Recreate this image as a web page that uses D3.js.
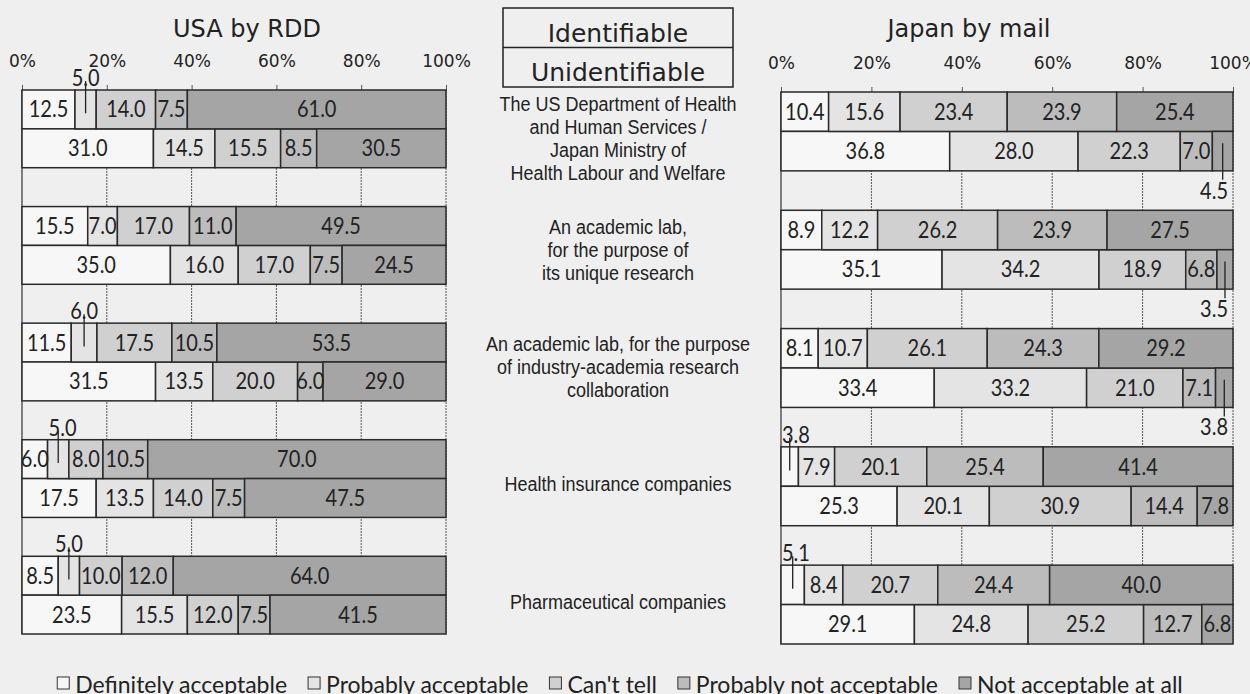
<!DOCTYPE html>
<html>
<head>
<meta charset="utf-8">
<script src="https://cdn.jsdelivr.net/npm/d3@7"></script>
<style>
  body { margin: 0; background: #efefef; }
  svg { display: block; }
</style>
</head>
<body>
<svg id="chart" width="1250" height="694"></svg>
<script>
// ---- data ----
var categories = ["HHS / MHLW", "Academic lab (own research)", "Academic lab (industry collaboration)",
                  "Health insurance companies", "Pharmaceutical companies"];
var categoryLines = [
  ["The US Department of Health", "and Human Services /", "Japan Ministry of", "Health Labour and Welfare"],
  ["An academic lab,", "for the purpose of", "its unique research"],
  ["An academic lab, for the purpose", "of industry-academia research", "collaboration"],
  ["Health insurance companies"],
  ["Pharmaceutical companies"]
];
var responses = ["Definitely acceptable", "Probably acceptable", "Can't tell",
                 "Probably not acceptable", "Not acceptable at all"];
var conditions = ["Identifiable", "Unidentifiable"];
var tickValues = [0, 20, 40, 60, 80, 100];

var usaIdent = [
  [12.5, 5.0, 14.0, 7.5, 61.0],
  [15.5, 7.0, 17.0, 11.0, 49.5],
  [11.5, 6.0, 17.5, 10.5, 53.5],
  [6.0, 5.0, 8.0, 10.5, 70.0],
  [8.5, 5.0, 10.0, 12.0, 64.0]
];
var usaUnident = [
  [31.0, 14.5, 15.5, 8.5, 30.5],
  [35.0, 16.0, 17.0, 7.5, 24.5],
  [31.5, 13.5, 20.0, 6.0, 29.0],
  [17.5, 13.5, 14.0, 7.5, 47.5],
  [23.5, 15.5, 12.0, 7.5, 41.5]
];
var japanIdent = [
  [10.4, 15.6, 23.4, 23.9, 25.4],
  [8.9, 12.2, 26.2, 23.9, 27.5],
  [8.1, 10.7, 26.1, 24.3, 29.2],
  [3.8, 7.9, 20.1, 25.4, 41.4],
  [5.1, 8.4, 20.7, 24.4, 40.0]
];
var japanUnident = [
  [36.8, 28.0, 22.3, 7.0, 4.5],
  [35.1, 34.2, 18.9, 6.8, 3.5],
  [33.4, 33.2, 21.0, 7.1, 3.8],
  [25.3, 20.1, 30.9, 14.4, 7.8],
  [29.1, 24.8, 25.2, 12.7, 6.8]
];
// segments whose label sits outside the bar with a leader line: [category, condition, response, side]
var usaCallouts = [[0, 0, 1, "above"], [2, 0, 1, "above"], [3, 0, 1, "above"], [4, 0, 1, "above"]];
var japanCallouts = [[0, 1, 4, "below"], [1, 1, 4, "below"], [2, 1, 4, "below"],
                     [3, 0, 0, "above"], [4, 0, 0, "above"]];

var fills = ["#f7f7f7", "#e4e4e4", "#d0d0d0", "#bcbcbc", "#a5a5a5"];
var ink = "#222";
var valueFont = "Lato, sans-serif";
var headFont = "'DejaVu Sans', sans-serif";

var svg = d3.select("#chart");
svg.append("rect").attr("width", 1250).attr("height", 694).attr("fill", "#efefef");

// row slots: identifiable, unidentifiable, blank gap
var slots = [];
categories.forEach(function(c, i) {
  slots.push(i + "-0", i + "-1");
  if (i < categories.length - 1) slots.push(i + "-gap");
});

// the scanned figure is a bit taller than wide, so the numbers get a small vertical stretch
function valueText(parent, x, y, anchor, txt) {
  return parent.append("text")
    .attr("transform", "translate(" + x + "," + y + ") scale(1,1.15)")
    .attr("text-anchor", anchor)
    .attr("font-family", valueFont).attr("font-size", 20).attr("fill", ink)
    .text(txt);
}

function drawPanel(p) {
  var g = svg.append("g");
  var x = d3.scaleLinear().domain([0, 1]).range([p.left, p.right]);
  var y = d3.scaleBand().domain(slots).range([p.top, p.bottom]).padding(0);

  // title
  g.append("text")
    .attr("x", p.titleX).attr("y", 37)
    .attr("text-anchor", "middle")
    .attr("font-family", headFont).attr("font-size", 24).attr("fill", ink)
    .text(p.title);

  // grid
  g.selectAll(".grid").data(tickValues.slice(1))
    .enter().append("line")
      .attr("x1", function(d) { return x(d / 100); })
      .attr("x2", function(d) { return x(d / 100); })
      .attr("y1", p.top).attr("y2", p.bottom)
      .attr("stroke", "#555").attr("stroke-width", 1).attr("stroke-dasharray", "2,1");
  g.append("line")
    .attr("x1", x(0)).attr("x2", x(0)).attr("y1", p.top).attr("y2", p.bottom)
    .attr("stroke", "#333").attr("stroke-width", 1.2);

  // axis on top
  var ax = g.append("g")
    .attr("transform", "translate(0," + p.top + ")")
    .call(d3.axisTop(x)
      .tickValues(tickValues.map(function(t) { return t / 100; }))
      .tickFormat(d3.format(".0%"))
      .tickSize(5).tickPadding(18));
  ax.select(".domain").attr("stroke", "#333");
  ax.selectAll(".tick line").attr("stroke", "#555");
  ax.selectAll(".tick text")
    .attr("font-family", headFont).attr("font-size", 17).attr("fill", ink);

  // stacked rows, normalised to 100%
  var rows = [];
  categories.forEach(function(cat, i) {
    conditions.forEach(function(cond, c) {
      var vals = (c === 0 ? p.ident : p.unident)[i];
      var row = {slot: i + "-" + c, cat: i, cond: c};
      responses.forEach(function(r, k) { row[r] = vals[k]; });
      rows.push(row);
    });
  });
  var series = d3.stack().keys(responses).offset(d3.stackOffsetExpand)(rows);

  var layer = g.selectAll(".layer").data(series)
    .enter().append("g")
      .attr("fill", function(d, k) { return fills[k]; });

  layer.selectAll("rect")
    .data(function(d) { return d; })
    .enter().append("rect")
      .attr("x", function(d) { return x(d[0]); })
      .attr("y", function(d) { return y(d.data.slot); })
      .attr("width", function(d) { return x(d[1]) - x(d[0]); })
      .attr("height", y.bandwidth())
      .attr("stroke", "#2a2a2a").attr("stroke-width", 1.5);

  // value labels
  series.forEach(function(s, k) {
    s.forEach(function(d) {
      var val = d.data[responses[k]];
      var txt = val.toFixed(1);
      var top = y(d.data.slot), h = y.bandwidth();
      var mid = (d[0] + d[1]) / 2;
      var co = p.callouts.filter(function(c) {
        return c[0] === d.data.cat && c[1] === d.data.cond && c[2] === k;
      })[0];
      if (!co) {
        valueText(g, x(mid), top + h / 2 + 8, "middle", txt);
        return;
      }
      var anchor = "middle", tx = x(mid);
      if (mid < 0.1) { anchor = "start"; tx = x(d[0]) + 1; }
      if (mid > 0.9) { anchor = "end"; tx = x(d[1]) - 5; }
      var ty, ly1, ly2;
      if (co[3] === "above") {
        ty = top - 4; ly1 = top - 9; ly2 = top + h * 0.6;
      } else {
        ty = top + h + 28; ly1 = top + h * 0.3; ly2 = top + h + 9;
      }
      g.append("line")
        .attr("x1", x(mid)).attr("x2", x(mid)).attr("y1", ly1).attr("y2", ly2)
        .attr("stroke", ink).attr("stroke-width", 1.3);
      valueText(g, tx, ty, anchor, txt);
    });
  });

  return y;
}

var yL = drawPanel({title: "USA by RDD", titleX: 247, left: 22, right: 446, top: 90, bottom: 634,
                    ident: usaIdent, unident: usaUnident, callouts: usaCallouts});
var yR = drawPanel({title: "Japan by mail", titleX: 969, left: 781, right: 1233, top: 92, bottom: 644,
                    ident: japanIdent, unident: japanUnident, callouts: japanCallouts});

// condition key box in the middle
var key = svg.append("g");
key.append("rect").attr("x", 503).attr("y", 8).attr("width", 230).attr("height", 79)
  .attr("fill", "none").attr("stroke", ink).attr("stroke-width", 1.5);
key.append("line").attr("x1", 503).attr("x2", 733).attr("y1", 47.5).attr("y2", 47.5)
  .attr("stroke", ink).attr("stroke-width", 1.5);
key.selectAll("text").data(conditions)
  .enter().append("text")
    .attr("x", 618)
    .attr("y", function(d, i) { return i === 0 ? 42 : 81; })
    .attr("text-anchor", "middle")
    .attr("font-family", headFont).attr("font-size", 25).attr("fill", ink)
    .text(function(d) { return d; });

// category labels between the panels
categoryLines.forEach(function(lines, i) {
  var cL = yL(i + "-0") + yL.bandwidth();
  var cR = yR(i + "-0") + yR.bandwidth();
  var c = (cL + cR) / 2 + (lines.length > 3 ? 9 : 3);
  var t = svg.append("text")
    .attr("transform", "translate(618," + c + ") scale(1,1.12)")
    .attr("text-anchor", "middle")
    .attr("font-family", "'Liberation Sans', Arial, sans-serif")
    .attr("font-size", 18).attr("fill", ink);
  lines.forEach(function(line, j) {
    t.append("tspan")
      .attr("x", 0)
      .attr("y", ((j - (lines.length - 1) / 2) * 23 + 6) / 1.12)
      .text(line);
  });
});

// legend
var legend = svg.append("g");
var lx = 0;
var items = [];
responses.forEach(function(r, k) {
  var it = legend.append("g");
  it.append("rect").attr("x", 0).attr("y", 677).attr("width", 12).attr("height", 12)
    .attr("fill", fills[k]).attr("stroke", "#333").attr("stroke-width", 1);
  var t = it.append("text").attr("x", 18).attr("y", 693)
    .attr("font-family", valueFont).attr("font-size", 23).attr("fill", ink).text(r);
  var w = 18 + t.node().getComputedTextLength();
  items.push({g: it, x: lx});
  lx += w + 21;
});
var total = lx - 21;
var start = 620 - total / 2;
items.forEach(function(it) { it.g.attr("transform", "translate(" + (start + it.x) + ",0)"); });
</script>
</body>
</html>
